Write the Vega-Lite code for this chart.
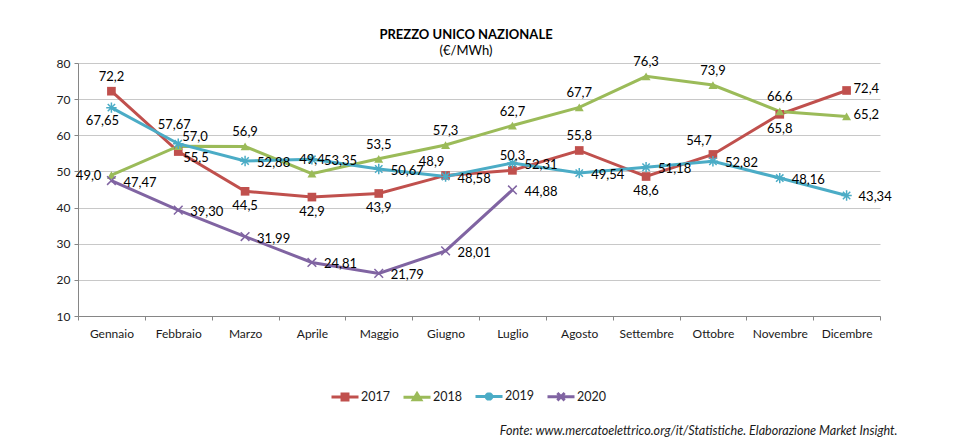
{
  "$schema": "https://vega.github.io/schema/vega-lite/v6.json",
  "width": 802,
  "height": 253,
  "autosize": "none",
  "padding": {"left": 78, "top": 63, "right": 83, "bottom": 125},
  "background": "white",
  "title": {
    "text": "PREZZO UNICO NAZIONALE",
    "subtitle": "(€/MWh)",
    "anchor": "middle",
    "dx": -13,
    "offset": -2,
    "font": "Lato",
    "fontSize": 13,
    "fontWeight": "bold",
    "color": "#000000",
    "subtitleFont": "Lato",
    "subtitleFontSize": 13,
    "subtitleColor": "#000000",
    "subtitlePadding": 3
  },
  "config": {
    "view": {"stroke": null},
    "font": "Lato",
    "locale": {"number": {"decimal": ",", "thousands": ".", "grouping": [3], "currency": ["€", ""]}}
  },
  "data": {
    "values": [
      {"month": "Gennaio", "year": "2017", "value": 72.2},
      {"month": "Febbraio", "year": "2017", "value": 55.5},
      {"month": "Marzo", "year": "2017", "value": 44.5},
      {"month": "Aprile", "year": "2017", "value": 42.9},
      {"month": "Maggio", "year": "2017", "value": 43.9},
      {"month": "Giugno", "year": "2017", "value": 48.9},
      {"month": "Luglio", "year": "2017", "value": 50.3},
      {"month": "Agosto", "year": "2017", "value": 55.8},
      {"month": "Settembre", "year": "2017", "value": 48.6},
      {"month": "Ottobre", "year": "2017", "value": 54.7},
      {"month": "Novembre", "year": "2017", "value": 65.8},
      {"month": "Dicembre", "year": "2017", "value": 72.4},
      {"month": "Gennaio", "year": "2018", "value": 49.0},
      {"month": "Febbraio", "year": "2018", "value": 57.0},
      {"month": "Marzo", "year": "2018", "value": 56.9},
      {"month": "Aprile", "year": "2018", "value": 49.4},
      {"month": "Maggio", "year": "2018", "value": 53.5},
      {"month": "Giugno", "year": "2018", "value": 57.3},
      {"month": "Luglio", "year": "2018", "value": 62.7},
      {"month": "Agosto", "year": "2018", "value": 67.7},
      {"month": "Settembre", "year": "2018", "value": 76.3},
      {"month": "Ottobre", "year": "2018", "value": 73.9},
      {"month": "Novembre", "year": "2018", "value": 66.6},
      {"month": "Dicembre", "year": "2018", "value": 65.2},
      {"month": "Gennaio", "year": "2019", "value": 67.65},
      {"month": "Febbraio", "year": "2019", "value": 57.67},
      {"month": "Marzo", "year": "2019", "value": 52.88},
      {"month": "Aprile", "year": "2019", "value": 53.35},
      {"month": "Maggio", "year": "2019", "value": 50.67},
      {"month": "Giugno", "year": "2019", "value": 48.58},
      {"month": "Luglio", "year": "2019", "value": 52.31},
      {"month": "Agosto", "year": "2019", "value": 49.54},
      {"month": "Settembre", "year": "2019", "value": 51.18},
      {"month": "Ottobre", "year": "2019", "value": 52.82},
      {"month": "Novembre", "year": "2019", "value": 48.16},
      {"month": "Dicembre", "year": "2019", "value": 43.34},
      {"month": "Gennaio", "year": "2020", "value": 47.47},
      {"month": "Febbraio", "year": "2020", "value": 39.30},
      {"month": "Marzo", "year": "2020", "value": 31.99},
      {"month": "Aprile", "year": "2020", "value": 24.81},
      {"month": "Maggio", "year": "2020", "value": 21.79},
      {"month": "Giugno", "year": "2020", "value": 28.01},
      {"month": "Luglio", "year": "2020", "value": 44.88}
    ]
  },
  "encoding": {
    "x": {
      "field": "month",
      "type": "nominal",
      "sort": ["Gennaio","Febbraio","Marzo","Aprile","Maggio","Giugno","Luglio","Agosto","Settembre","Ottobre","Novembre","Dicembre"],
      "scale": {"type": "band", "paddingInner": 0, "paddingOuter": 0},
      "axis": {
        "title": "Fonte: www.mercatoelettrico.org/it/Statistiche. Elaborazione Market Insight.",
        "titleX": 819,
        "titleY": 118,
        "titleAlign": "right",
        "titleAnchor": "end",
        "titleBaseline": "alphabetic",
        "titleFont": "Lato",
        "titleFontSize": 12.6,
        "titleFontStyle": "italic",
        "titleFontWeight": "normal",
        "titleColor": "#1a1a1a",
        "labelAngle": 0,
        "labelFont": "Lato",
        "labelFontSize": 12,
        "labelColor": "#1a1a1a",
        "labelPadding": 8,
        "domainColor": "#868686",
        "tickColor": "#868686",
        "tickSize": 4,
        "tickBand": "extent",
        "grid": false
      }
    },
    "y": {
      "field": "value",
      "type": "quantitative",
      "scale": {"domain": [10, 80], "nice": false},
      "axis": {
        "title": null,
        "values": [10, 20, 30, 40, 50, 60, 70, 80],
        "labelFont": "Lato",
        "labelFontSize": 12,
        "labelColor": "#1a1a1a",
        "labelPadding": 4,
        "domainColor": "#868686",
        "tickColor": "#868686",
        "tickSize": 4,
        "gridColor": "#c8c8c8",
        "gridWidth": 1
      }
    }
  },
  "layer": [
    {
      "mark": {"type": "line", "strokeWidth": 3},
      "encoding": {
        "color": {
          "field": "year",
          "type": "nominal",
          "scale": {"domain": ["2017","2018","2019","2020"], "range": ["#C0504D","#9BBB59","#4BACC6","#8064A2"]},
          "legend": {
            "title": null,
            "orient": "none",
            "direction": "horizontal",
            "legendX": 252,
            "legendY": 318,
            "symbolSize": 729,
            "symbolStrokeWidth": 3,
            "labelFont": "Lato",
            "labelFontSize": 12.5,
            "labelColor": "#1a1a1a",
            "labelOffset": 1,
            "columnPadding": 7,
            "encode": {
              "symbols": {
                "update": {
                  "shape": {"signal": "datum.value==='2017' ? 'M-1,0H1M-0.22,-0.22H0.22V0.22H-0.22Z' : datum.value==='2018' ? 'M-1,0H1M0,-0.26L0.28,0.2H-0.28Z' : datum.value==='2019' ? 'M-1,0H1M-0.3,0H0.3M0,-0.3V0.3M-0.22,-0.22L0.22,0.22M-0.22,0.22L0.22,-0.22' : 'M-1,0H1M-0.27,-0.27L0.27,0.27M-0.27,0.27L0.27,-0.27'"},
                  "fill": {"scale": "color", "field": "value"},
                  "stroke": {"scale": "color", "field": "value"},
                  "strokeWidth": {"value": 3},
                  "opacity": {"value": 1}
                }
              }
            }
          }
        }
      }
    },
    {
      "transform": [{"filter": "datum.year==='2017'"}],
      "mark": {"type": "point", "shape": "square", "filled": true, "size": 75, "opacity": 1, "color": "#C0504D"}
    },
    {
      "transform": [{"filter": "datum.year==='2018'"}],
      "mark": {"type": "point", "shape": "triangle-up", "filled": true, "size": 80, "opacity": 1, "color": "#9BBB59"}
    },
    {
      "transform": [{"filter": "datum.year==='2019'"}],
      "mark": {"type": "point", "shape": "M-1.2,0H1.2M0,-1.2V1.2M-0.85,-0.85L0.85,0.85M-0.85,0.85L0.85,-0.85", "filled": false, "size": 75, "strokeWidth": 1.5, "opacity": 1, "color": "#4BACC6"}
    },
    {
      "transform": [{"filter": "datum.year==='2020'"}],
      "mark": {"type": "point", "shape": "M-1,-1L1,1M-1,1L1,-1", "filled": false, "size": 75, "strokeWidth": 1.5, "opacity": 1, "color": "#8064A2"}
    },
    {
      "transform": [{"filter": "(datum.year==='2017' && indexof(['Gennaio','Luglio','Agosto'], datum.month)>=0) || (datum.year==='2018' && indexof(['Gennaio','Febbraio','Dicembre'], datum.month)<0)"}],
      "mark": {"type": "text", "dy": -14, "baseline": "middle", "align": "center", "font": "Lato", "fontSize": 13, "color": "#000000"},
      "encoding": {"text": {"field": "value", "type": "quantitative", "format": ".1f"}}
    },
    {
      "transform": [{"filter": "datum.year==='2017' && indexof(['Giugno','Ottobre'], datum.month)>=0"}],
      "mark": {"type": "text", "dx": -14, "dy": -13, "baseline": "middle", "align": "center", "font": "Lato", "fontSize": 13, "color": "#000000"},
      "encoding": {"text": {"field": "value", "type": "quantitative", "format": ".1f"}}
    },
    {
      "transform": [{"filter": "datum.year==='2019' && datum.month==='Febbraio'"}],
      "mark": {"type": "text", "dx": -4, "dy": -19, "baseline": "middle", "align": "center", "font": "Lato", "fontSize": 13, "color": "#000000"},
      "encoding": {"text": {"field": "value", "type": "quantitative", "format": ".2f"}}
    },
    {
      "transform": [{"filter": "datum.year==='2018' && datum.month==='Febbraio'"}],
      "mark": {"type": "text", "dx": 4, "dy": -9, "baseline": "middle", "align": "left", "font": "Lato", "fontSize": 13, "color": "#000000"},
      "encoding": {"text": {"field": "value", "type": "quantitative", "format": ".1f"}}
    },
    {
      "transform": [{"filter": "datum.year==='2017' && datum.month==='Febbraio'"}],
      "mark": {"type": "text", "dx": 5, "dy": 6, "baseline": "middle", "align": "left", "font": "Lato", "fontSize": 13, "color": "#000000"},
      "encoding": {"text": {"field": "value", "type": "quantitative", "format": ".1f"}}
    },
    {
      "transform": [{"filter": "(datum.year==='2019' && datum.month!=='Febbraio' && datum.month!=='Gennaio') || datum.year==='2020'"}],
      "mark": {"type": "text", "dx": 12, "dy": 2, "baseline": "middle", "align": "left", "font": "Lato", "fontSize": 13, "color": "#000000"},
      "encoding": {"text": {"field": "value", "type": "quantitative", "format": ".2f"}}
    },
    {
      "transform": [{"filter": "(datum.year==='2017' || datum.year==='2018') && datum.month==='Dicembre'"}],
      "mark": {"type": "text", "dx": 7, "dy": -1, "baseline": "middle", "align": "left", "font": "Lato", "fontSize": 13, "color": "#000000"},
      "encoding": {"text": {"field": "value", "type": "quantitative", "format": ".1f"}}
    },
    {
      "transform": [{"filter": "datum.year==='2017' && indexof(['Marzo','Aprile','Maggio','Settembre','Novembre'], datum.month)>=0"}],
      "mark": {"type": "text", "dy": 15, "baseline": "middle", "align": "center", "font": "Lato", "fontSize": 13, "color": "#000000"},
      "encoding": {"text": {"field": "value", "type": "quantitative", "format": ".1f"}}
    },
    {
      "transform": [{"filter": "datum.year==='2019' && datum.month==='Gennaio'"}],
      "mark": {"type": "text", "dx": -9, "dy": 13, "baseline": "middle", "align": "center", "font": "Lato", "fontSize": 13, "color": "#000000"},
      "encoding": {"text": {"field": "value", "type": "quantitative", "format": ".2f"}}
    },
    {
      "transform": [{"filter": "datum.year==='2018' && datum.month==='Gennaio'"}],
      "mark": {"type": "text", "dx": -10, "dy": 1, "baseline": "middle", "align": "right", "font": "Lato", "fontSize": 13, "color": "#000000"},
      "encoding": {"text": {"field": "value", "type": "quantitative", "format": ".1f"}}
    }
  ]
}
